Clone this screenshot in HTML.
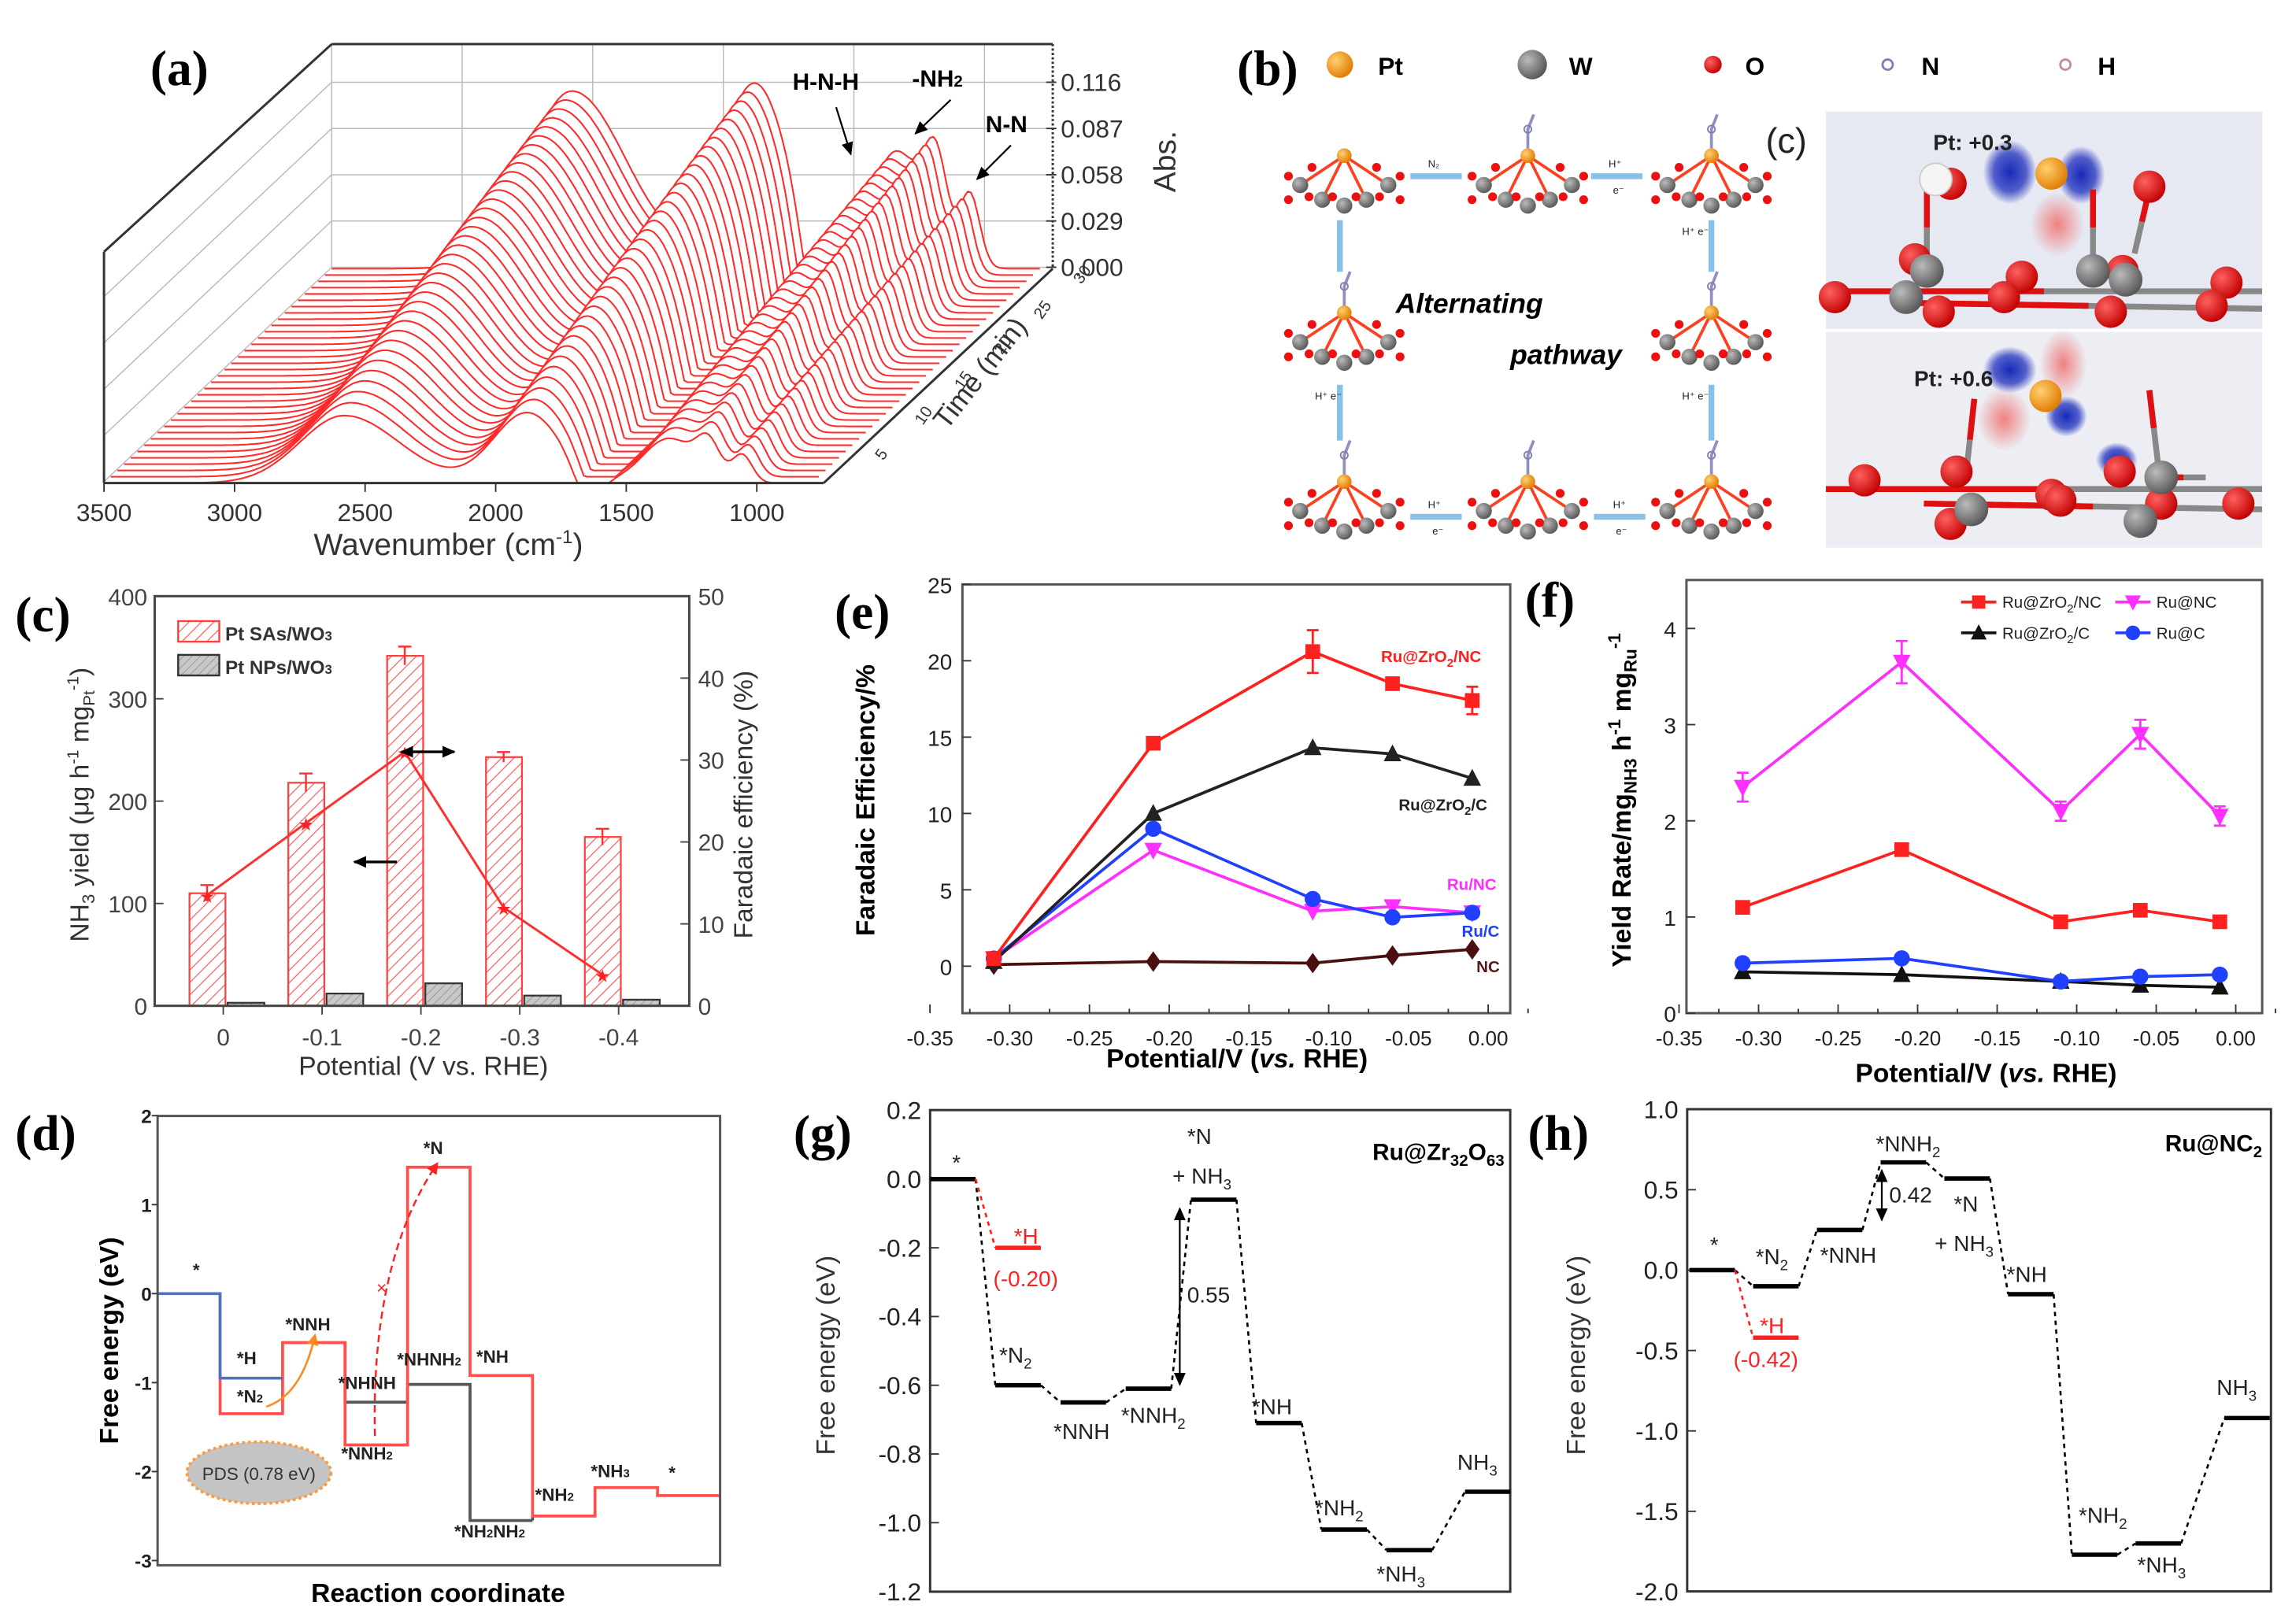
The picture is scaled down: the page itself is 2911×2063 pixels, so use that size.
<!DOCTYPE html>
<html><head><meta charset="utf-8">
<style>
html,body{margin:0;padding:0;background:#fff;}
svg{display:block;font-family:"Liberation Sans",Arial,sans-serif;}
.pl{font-family:"Liberation Serif",serif;font-weight:bold;font-size:34px;}
</style></head>
<body>
<svg id="fig" width="2911" height="2063" viewBox="0 0 1560 1106" xmlns="http://www.w3.org/2000/svg">
<defs>
<pattern id="hatchR" width="6" height="6" patternUnits="userSpaceOnUse" patternTransform="rotate(45)"><line x1="0" y1="0" x2="0" y2="6" stroke="#ff5050" stroke-width="1.2"/></pattern>
<pattern id="hatchG" width="4" height="4" patternUnits="userSpaceOnUse" patternTransform="rotate(45)"><rect width="4" height="4" fill="#c8c8c8"/><line x1="0" y1="0" x2="0" y2="4" stroke="#888" stroke-width="0.8"/></pattern>
<radialGradient id="gPt" cx="0.35" cy="0.35" r="0.7"><stop offset="0" stop-color="#ffd070"/><stop offset="1" stop-color="#e07a00"/></radialGradient>
<radialGradient id="gW" cx="0.35" cy="0.35" r="0.7"><stop offset="0" stop-color="#bbb"/><stop offset="1" stop-color="#555"/></radialGradient>
<radialGradient id="gO" cx="0.35" cy="0.35" r="0.7"><stop offset="0" stop-color="#ff6060"/><stop offset="1" stop-color="#c00000"/></radialGradient>
<radialGradient id="gBlue" cx="0.5" cy="0.5" r="0.5"><stop offset="0" stop-color="#1828b8"/><stop offset="0.6" stop-color="#2a3ac0" stop-opacity="0.8"/><stop offset="1" stop-color="#2030c0" stop-opacity="0"/></radialGradient>
<radialGradient id="gRed" cx="0.5" cy="0.5" r="0.5"><stop offset="0" stop-color="#f08080"/><stop offset="1" stop-color="#f08080" stop-opacity="0"/></radialGradient>
<marker id="arrK" markerUnits="userSpaceOnUse" markerWidth="9" markerHeight="8" refX="8" refY="4" orient="auto"><path d="M0,0 L9,4 L0,8 z" fill="#000"/></marker>
<marker id="arrKs" markerUnits="userSpaceOnUse" markerWidth="9" markerHeight="8" refX="1" refY="4" orient="auto"><path d="M9,0 L0,4 L9,8 z" fill="#000"/></marker>
<marker id="arrO" markerUnits="userSpaceOnUse" markerWidth="8" markerHeight="8" refX="6" refY="4" orient="auto"><path d="M0,0 L8,4 L0,8 z" fill="#ff8a20"/></marker>
<marker id="arrR" markerUnits="userSpaceOnUse" markerWidth="8" markerHeight="8" refX="6" refY="4" orient="auto"><path d="M0,0 L8,4 L0,8 z" fill="#ff2020"/></marker>
</defs>

<!-- ===== Panel (a) ===== -->
<g id="panelA">
<text class="pl" x="102" y="58">(a)</text>
<g id="a-grid" stroke="#bbb" stroke-width="0.8" fill="none"></g>
<g id="a-spectra"></g>
<g id="a-box" stroke="#333" stroke-width="1.6" fill="none">
<line x1="70.5" y1="171.5" x2="225.6" y2="30"/><line x1="225.6" y1="30" x2="716.5" y2="30"/>
<line x1="70.5" y1="171.5" x2="70.5" y2="329"/><line x1="70.5" y1="329" x2="560.5" y2="329"/>
<line x1="560.5" y1="329" x2="716.5" y2="183"/><line x1="716.5" y1="30" x2="716.5" y2="183" stroke-dasharray="1.5,1.5"/>
</g>
<g id="a-xticks"></g>
<g id="a-zticks"></g>
<text x="305" y="378" font-size="21" text-anchor="middle" fill="#333">Wavenumber (cm<tspan font-size="13" dy="-8">-1</tspan><tspan dy="8">)</tspan></text>
<text x="0" y="0" font-size="21" fill="#333" transform="translate(800,110) rotate(-90)" text-anchor="middle">Abs.</text>
<text x="0" y="0" font-size="19" fill="#333" transform="translate(672,258) rotate(-52)" text-anchor="middle">Time (min)</text>
<g id="a-tticks"></g>
<text x="562" y="61" font-size="16" font-weight="bold" text-anchor="middle">H-N-H</text>
<text x="638" y="59" font-size="16" font-weight="bold" text-anchor="middle">-NH<tspan font-size="11">2</tspan></text>
<text x="685" y="90" font-size="16" font-weight="bold" text-anchor="middle">N-N</text>
<line x1="569" y1="73" x2="579" y2="105" stroke="#000" stroke-width="1.2" marker-end="url(#arrK)"/>
<line x1="647" y1="68" x2="623" y2="91" stroke="#000" stroke-width="1.2" marker-end="url(#arrK)"/>
<line x1="688" y1="99" x2="665" y2="122" stroke="#000" stroke-width="1.2" marker-end="url(#arrK)"/>
</g>

<!-- ===== Panel (b) ===== -->
<g id="panelB">
<text class="pl" x="842" y="58">(b)</text>
<g font-size="17" font-weight="bold">
<circle cx="912" cy="44" r="9" fill="url(#gPt)"/><text x="938" y="51">Pt</text>
<circle cx="1043" cy="44" r="10" fill="url(#gW)"/><text x="1068" y="51">W</text>
<circle cx="1166" cy="44" r="6" fill="url(#gO)"/><text x="1188" y="51">O</text>
<circle cx="1285" cy="44" r="3.5" fill="none" stroke="#8080b0" stroke-width="1.5"/><text x="1308" y="51">N</text>
<circle cx="1406" cy="44" r="3.5" fill="none" stroke="#c09090" stroke-width="1.5"/><text x="1428" y="51">H</text>
</g>
<g id="b-mols"></g>
<g stroke="#88c0e8" stroke-width="4" fill="none">
<line x1="960" y1="120" x2="995" y2="120"/><line x1="1083" y1="120" x2="1118" y2="120"/>
<line x1="912" y1="150" x2="912" y2="185"/><line x1="1165" y1="150" x2="1165" y2="185"/>
<line x1="912" y1="262" x2="912" y2="300"/><line x1="1165" y1="262" x2="1165" y2="300"/>
<line x1="960" y1="352" x2="995" y2="352"/><line x1="1085" y1="352" x2="1120" y2="352"/>
</g>
<g font-size="7" fill="#222">
<text x="972" y="114">N₂</text><text x="1095" y="114">H⁺</text><text x="1098" y="132">e⁻</text>
<text x="1145" y="160">H⁺ e⁻</text><text x="1145" y="272">H⁺ e⁻</text><text x="895" y="272">H⁺ e⁻</text>
<text x="972" y="346">H⁺</text><text x="975" y="364">e⁻</text><text x="1098" y="346">H⁺</text><text x="1100" y="364">e⁻</text>
</g>
<text x="950" y="213" font-size="19" font-weight="bold" font-style="italic">Alternating</text>
<text x="1028" y="248" font-size="19" font-weight="bold" font-style="italic">pathway</text>
</g>

<!-- ===== Inset (c) charge density ===== -->
<g id="panelCinset">
<text x="1202" y="104" font-size="24" fill="#222">(c)</text>
<rect x="1243" y="76" width="297" height="148" fill="#e6e8f2"/>
<rect x="1243" y="226" width="297" height="147" fill="#eceef4"/>
<g id="c-blobs"></g>
<g id="c-atoms"></g>
<text x="1316" y="102" font-size="15" font-weight="bold" fill="#222">Pt: +0.3</text>
<text x="1303" y="263" font-size="15" font-weight="bold" fill="#222">Pt: +0.6</text>
</g>

<!-- ===== Panel (c) bar chart ===== -->
<g id="panelC">
<text class="pl" x="10" y="430">(c)</text>
<g id="c-bars"></g>
<rect x="105" y="406" width="364" height="279" fill="none" stroke="#444" stroke-width="1.6"/>
<g id="c-axes"></g>
<g>
<rect x="121" y="423" width="28" height="14" fill="url(#hatchR)" stroke="#ff4040" stroke-width="1.3"/>
<text x="153" y="436" font-size="13" font-weight="bold" fill="#333">Pt SAs/WO<tspan font-size="9">3</tspan></text>
<rect x="121" y="446" width="28" height="14" fill="url(#hatchG)" stroke="#333" stroke-width="1.3"/>
<text x="153" y="459" font-size="13" font-weight="bold" fill="#333">Pt NPs/WO<tspan font-size="9">3</tspan></text>
</g>
<line x1="270" y1="587" x2="241" y2="587" stroke="#000" stroke-width="1.8" marker-end="url(#arrK)"/>
<line x1="273" y1="512" x2="309" y2="512" stroke="#000" stroke-width="1.8" marker-end="url(#arrK)" marker-start="url(#arrKs)"/>
<text x="0" y="0" font-size="18" fill="#333" text-anchor="middle" transform="translate(60,548) rotate(-90)">NH<tspan font-size="12" dy="4">3</tspan><tspan dy="-4"> yield (μg h</tspan><tspan font-size="11" dy="-7">-1</tspan><tspan dy="7"> mg</tspan><tspan font-size="11" dy="4">Pt</tspan><tspan font-size="11" dy="-11">-1</tspan><tspan dy="7">)</tspan></text>
<text x="0" y="0" font-size="18" fill="#333" text-anchor="middle" transform="translate(512,548) rotate(-90)">Faradaic efficiency (%)</text>
<text x="288" y="732" font-size="18" fill="#333" text-anchor="middle">Potential (V vs. RHE)</text>
</g>

<!-- ===== Panel (e) ===== -->
<g id="panelE">
<text class="pl" x="568" y="428">(e)</text>
<rect x="655" y="398" width="373" height="292" fill="none" stroke="#555" stroke-width="1.6"/>
<g id="e-axes"></g>
<g id="e-series"></g>
<g font-size="11" font-weight="bold">
<text x="940" y="451" fill="#ff2020">Ru@ZrO<tspan font-size="8" dy="3">2</tspan><tspan dy="-3">/NC</tspan></text>
<text x="952" y="552" fill="#222">Ru@ZrO<tspan font-size="8" dy="3">2</tspan><tspan dy="-3">/C</tspan></text>
<text x="985" y="606" fill="#ff30ff">Ru/NC</text>
<text x="995" y="638" fill="#2040ff">Ru/C</text>
<text x="1005" y="662" fill="#551a1a">NC</text>
</g>
<text x="0" y="0" font-size="18" font-weight="bold" text-anchor="middle" transform="translate(595,545) rotate(-90)">Faradaic Efficiency/%</text>
<text x="842" y="727" font-size="18" font-weight="bold" text-anchor="middle">Potential/V (<tspan font-style="italic">vs.</tspan> RHE)</text>
</g>

<!-- ===== Panel (f) ===== -->
<g id="panelF">
<text class="pl" x="1038" y="420">(f)</text>
<rect x="1148" y="395" width="392" height="295" fill="none" stroke="#555" stroke-width="1.6"/>
<g id="f-axes"></g>
<g id="f-series"></g>
<g id="f-legend" font-size="11"></g>
<text x="0" y="0" font-size="18" font-weight="bold" text-anchor="middle" transform="translate(1110,545) rotate(-90)">Yield Rate/mg<tspan font-size="12" dy="4">NH3</tspan><tspan dy="-4"> h</tspan><tspan font-size="12" dy="-7">-1</tspan><tspan dy="7"> mg</tspan><tspan font-size="12" dy="4">Ru</tspan><tspan font-size="12" dy="-11">-1</tspan></text>
<text x="1352" y="737" font-size="18" font-weight="bold" text-anchor="middle">Potential/V (<tspan font-style="italic">vs.</tspan> RHE)</text>
</g>

<!-- ===== Panel (d) ===== -->
<g id="panelD">
<text class="pl" x="10" y="783">(d)</text>
<g id="d-steps"></g>
<rect x="107" y="760" width="383" height="306" fill="none" stroke="#555" stroke-width="1.6"/>
<g id="d-axes"></g>
<g font-size="12" font-weight="bold" fill="#222">
<text x="131" y="869">*</text><text x="161" y="929">*H</text><text x="161" y="955">*N<tspan font-size="8">2</tspan></text>
<text x="194" y="906">*NNH</text><text x="230" y="946">*NHNH</text><text x="232" y="994">*NNH<tspan font-size="8">2</tspan></text>
<text x="288" y="786">*N</text><text x="270" y="930">*NHNH<tspan font-size="8">2</tspan></text><text x="324" y="928">*NH</text>
<text x="309" y="1047">*NH<tspan font-size="8">2</tspan>NH<tspan font-size="8">2</tspan></text><text x="364" y="1022">*NH<tspan font-size="8">2</tspan></text>
<text x="402" y="1006">*NH<tspan font-size="8">3</tspan></text><text x="455" y="1007">*</text>
</g>
<path d="M181,958 Q205,950 214,910" fill="none" stroke="#ff8a20" stroke-width="1.4" marker-end="url(#arrO)"/>
<path d="M255,978 Q252,860 297,793" fill="none" stroke="#ff2020" stroke-width="1.3" stroke-dasharray="5,3" marker-end="url(#arrR)"/>
<text x="256" y="881" font-size="12" fill="#ff2020">×</text>
<ellipse cx="176" cy="1003" rx="49" ry="21" fill="#c4c4c4" stroke="#ff9a40" stroke-width="2" stroke-dasharray="2,2"/>
<text x="176" y="1008" font-size="12" text-anchor="middle" fill="#333">PDS (0.78 eV)</text>
<text x="0" y="0" font-size="18" font-weight="bold" text-anchor="middle" transform="translate(80,913) rotate(-90)">Free energy (eV)</text>
<text x="298" y="1091" font-size="18" font-weight="bold" text-anchor="middle">Reaction coordinate</text>
</g>

<!-- ===== Panel (g) ===== -->
<g id="panelG">
<text class="pl" x="540" y="783">(g)</text>
<rect x="633" y="756" width="395" height="328" fill="none" stroke="#333" stroke-width="1.6"/>
<g id="g-axes"></g>
<g id="g-steps"></g>
<text x="1024" y="790" font-size="16" font-weight="bold" text-anchor="end">Ru@Zr<tspan font-size="11" dy="4">32</tspan><tspan dy="-4">O</tspan><tspan font-size="11" dy="4">63</tspan></text>
<g font-size="15" fill="#222">
<text x="648" y="797">*</text>
<text x="690" y="847" fill="#ff2020">*H</text><text x="676" y="876" fill="#ff2020">(-0.20)</text>
<text x="680" y="928">*N<tspan font-size="10" dy="4">2</tspan></text>
<text x="717" y="980">*NNH</text><text x="763" y="969">*NNH<tspan font-size="10" dy="4">2</tspan></text>
<text x="808" y="779">*N</text><text x="798" y="806">+ NH<tspan font-size="10" dy="4">3</tspan></text>
<text x="808" y="887">0.55</text>
<text x="852" y="963">*NH</text><text x="895" y="1032">*NH<tspan font-size="10" dy="4">2</tspan></text>
<text x="937" y="1077">*NH<tspan font-size="10" dy="4">3</tspan></text><text x="992" y="1001">NH<tspan font-size="10" dy="4">3</tspan></text>
</g>
<line x1="803" y1="943" x2="803" y2="823" stroke="#000" stroke-width="1.2" marker-end="url(#arrK)" marker-start="url(#arrKs)"/>
<text x="0" y="0" font-size="18" text-anchor="middle" fill="#333" transform="translate(568,923) rotate(-90)">Free energy (eV)</text>
</g>

<!-- ===== Panel (h) ===== -->
<g id="panelH">
<text class="pl" x="1040" y="783">(h)</text>
<rect x="1148.5" y="755.4" width="397.5" height="328.4" fill="none" stroke="#333" stroke-width="1.6"/>
<g id="h-axes"></g>
<g id="h-steps"></g>
<text x="1540" y="784" font-size="16" font-weight="bold" text-anchor="end">Ru@NC<tspan font-size="11" dy="4">2</tspan></text>
<g font-size="15" fill="#222">
<text x="1164" y="853">*</text><text x="1195" y="861">*N<tspan font-size="10" dy="4">2</tspan></text>
<text x="1198" y="908" fill="#ff2020">*H</text><text x="1180" y="931" fill="#ff2020">(-0.42)</text>
<text x="1239" y="860">*NNH</text><text x="1277" y="784">*NNH<tspan font-size="10" dy="4">2</tspan></text>
<text x="1286" y="819">0.42</text>
<text x="1330" y="825">*N</text><text x="1317" y="852">+ NH<tspan font-size="10" dy="4">3</tspan></text>
<text x="1366" y="873">*NH</text><text x="1415" y="1037">*NH<tspan font-size="10" dy="4">2</tspan></text>
<text x="1455" y="1071">*NH<tspan font-size="10" dy="4">3</tspan></text><text x="1509" y="950">NH<tspan font-size="10" dy="4">3</tspan></text>
</g>
<line x1="1281" y1="797" x2="1281" y2="831" stroke="#000" stroke-width="1.2" marker-end="url(#arrK)" marker-start="url(#arrKs)"/>
<text x="0" y="0" font-size="18" text-anchor="middle" fill="#333" transform="translate(1079,923) rotate(-90)">Free energy (eV)</text>
</g>
</svg>

<script>
// ---------------- data arrays ----------------
// (a) in-situ FTIR waterfall
const aPeakCenters = [2580, 1880, 1337, 1185, 1056];
const aPeakHeights = [121, 126, 80, 62, 50];
const aPeakWidths  = [210, 130, 100, 45, 38];
const aDipCenter = 1650;
const aCurveCount = 35;
const aXTicks = [3500, 3000, 2500, 2000, 1500, 1000];
const aZTicks = ['0.116', '0.087', '0.058', '0.029', '0.000'];
const aTimeTicks = ['5', '10', '15', '20', '25', '30'];
// (c) bars
const cCats = ['0', '-0.1', '-0.2', '-0.3', '-0.4'];
const cSA = [110, 218, 342, 243, 165];
const cSAerr = [8, 9, 9, 5, 8];
const cNP = [3, 12, 22, 10, 6];
const cFE = [13.5, 22.3, 31, 12, 3.8];
const cYTicks = [0, 100, 200, 300, 400];
const cY2Ticks = [0, 10, 20, 30, 40, 50];
// (e)
const ePot = [-0.31, -0.21, -0.11, -0.06, -0.01];
const eRuZrNC = [0.5, 14.6, 20.6, 18.5, 17.4];
const eRuZrNCerr = [0, 0.4, 1.4, 0.3, 0.9];
const eRuZrC = [0.3, 10.0, 14.3, 13.9, 12.3];
const eRuC = [0.5, 9.0, 4.4, 3.2, 3.5];
const eRuNC = [0.5, 7.6, 3.6, 3.9, 3.5];
const eNC = [0.1, 0.3, 0.2, 0.7, 1.1];
const eYTicks = [0, 5, 10, 15, 20, 25];
const eXTicks = ['-0.35', '-0.30', '-0.25', '-0.20', '-0.15', '-0.10', '-0.05', '0.00'];
// (f)
const fPot = [-0.31, -0.21, -0.11, -0.06, -0.01];
const fRuNC = [2.35, 3.65, 2.1, 2.9, 2.05];
const fRuNCerr = [0.15, 0.22, 0.1, 0.15, 0.1];
const fRuZrNC = [1.1, 1.7, 0.95, 1.07, 0.95];
const fRuC = [0.52, 0.57, 0.33, 0.38, 0.4];
const fRuZrC = [0.43, 0.40, 0.33, 0.29, 0.27];
const fYTicks = [0, 1, 2, 3, 4];
// (d)
const dBlue = [0, -0.95];
const dRed = [null, -1.35, -0.55, -1.7, 1.42, -0.92, -2.5, -2.18, -2.27];
const dBlack = [null, null, null, -1.22, -1.02, -2.55];
const dYTicks = [2, 1, 0, -1, -2, -3];
// (g)
const gLevels = [0, -0.6, -0.65, -0.61, -0.06, -0.71, -1.02, -1.08, -0.91];
const gH = -0.2;
const gYTicks = ['0.2', '0.0', '-0.2', '-0.4', '-0.6', '-0.8', '-1.0', '-1.2'];
// (h)
const hLevels = [0, -0.1, 0.25, 0.67, 0.57, -0.15, -1.77, -1.70, -0.92];
const hH = -0.42;
const hYTicks = ['1.0', '0.5', '0.0', '-0.5', '-1.0', '-1.5', '-2.0'];

const NS = 'http://www.w3.org/2000/svg';
function mk(tag, attrs, parent) {
  const e = document.createElementNS(NS, tag);
  for (const k in attrs) e.setAttribute(k, attrs[k]);
  if (parent) parent.appendChild(e);
  return e;
}
function txt(parent, x, y, s, attrs) {
  const e = mk('text', Object.assign({x: x, y: y}, attrs || {}), parent);
  e.textContent = s;
  return e;
}
const $ = id => document.getElementById(id);

// ---------------- (a) ----------------
(function () {
  const X0 = 70.5, Y0 = 329, DX = 155, DY = -146, K = 0.1778;
  const xW = wn => X0 + (3500 - wn) * K;
  const grid = $('a-grid');
  aXTicks.forEach(w => {
    const l = mk('line', {x1: xW(w) + DX, y1: 30, x2: xW(w) + DX, y2: Y0 + DY}, grid);
    
    
  });
  aZTicks.forEach((s, i) => {
    const y = 56 + i * 31.5;
    const l = mk('line', {x1: X0 + DX, y1: y, x2: 716.5, y2: y}, grid);
    
    
    const l2 = mk('line', {x1: X0, y1: y - DY, x2: X0 + DX, y2: y}, grid);
    
    
  });
  const sp = $('a-spectra');
  for (let k = aCurveCount - 1; k >= 0; k--) {
    const f = k / (aCurveCount - 1);
    const dx = f * DX, dy = f * DY;
    const sc = 0.38 + 0.62 * Math.pow(f, 0.8);
    let pts = [];
    for (let w = 3500; w >= 780; w -= 12) {
      let h = 0;
      for (let i = 0; i < aPeakCenters.length; i++) {
        let wd = aPeakWidths[i];
        if (i === 0 && w > aPeakCenters[0]) wd = 170;
        h += aPeakHeights[i] * Math.exp(-Math.pow((w - aPeakCenters[i]) / wd, 2) / 2);
      }
      h -= 0.45 * aPeakHeights[0] * Math.exp(-Math.pow((w - aDipCenter) / 50, 2) / 2);
      h = Math.max(h * sc, 0);
      pts.push([xW(w) + dx, Y0 + dy - h]);
    }
    const d = 'M' + pts.map(p => p[0].toFixed(1) + ',' + p[1].toFixed(1)).join(' L');
    const poly = mk('path', {d: d + ' L' + pts[pts.length - 1][0].toFixed(1) + ',' + (Y0 + dy) + ' L' + pts[0][0].toFixed(1) + ',' + (Y0 + dy) + ' Z', fill: '#fff', stroke: 'none'}, sp);
    
    
    const line = mk('path', {d: d, fill: 'none', stroke: '#ff2a2a', 'stroke-width': 1.1}, sp);
    
    
  }
  const xt = $('a-xticks');
  aXTicks.forEach(w => {
    const t = txt(xt, xW(w), 355, String(w), {'font-size': 17, 'text-anchor': 'middle', fill: '#333'});
    
    
    mk('line', {x1: xW(w), y1: Y0, x2: xW(w), y2: Y0 + 6, stroke: '#333'}, xt);
  });
  const zt = $('a-zticks');
  aZTicks.forEach((s, i) => {
    const y = 56 + i * 31.5;
    const t = txt(zt, 722, y + 6, s, {'font-size': 17, fill: '#333'});
    
    
    mk('line', {x1: 712, y1: y, x2: 719, y2: y, stroke: '#333'}, zt);
  });
  const tt = $('a-tticks');
  aTimeTicks.forEach((s, i) => {
    const x = 601 + i * 27, y = 314 - i * 24;
    const t = txt(tt, 0, 0, s, {'font-size': 11, fill: '#333', transform: 'translate(' + x + ',' + y + ') rotate(-55)'});
    
    
  });
})();

// ---------------- (b) molecules ----------------
(function () {
  const g = $('b-mols');
  const centers = [[915,118,0],[1040,118,1],[1165,118,2],[915,225,1],[1165,225,2],[915,340,1],[1040,340,2],[1165,340,1]];
  centers.forEach(c => {
    const [cx, cy, n] = c;
    const m = mk('g', {}, g);
    
    
    mk('path', {d: `M${cx-30},${cy+8} L${cx},${cy-12} L${cx+30},${cy+8} M${cx-15},${cy+18} L${cx},${cy-12} L${cx+15},${cy+18}`, stroke: '#ff4020', 'stroke-width': 2, fill: 'none'}, m);
    [[-30,8],[30,8],[-15,18],[15,18],[0,22]].forEach(p => mk('circle', {cx: cx+p[0], cy: cy+p[1], r: 5.5, fill: 'url(#gW)'}, m));
    [[-38,2],[38,2],[-22,-4],[22,-4],[-8,16],[8,16],[-24,16],[24,16],[-38,18],[38,18]].forEach(p => mk('circle', {cx: cx+p[0], cy: cy+p[1], r: 3, fill: '#ee1010'}, m));
    mk('circle', {cx: cx, cy: cy - 12, r: 5, fill: 'url(#gPt)'}, m);
    if (n > 0) {
      mk('path', {d: `M${cx},${cy-17} L${cx},${cy-30} L${cx+4},${cy-40}`, stroke: '#9090c0', 'stroke-width': 2, fill: 'none'}, m);
      mk('circle', {cx: cx, cy: cy - 30, r: 2.5, fill: 'none', stroke: '#8080b0'}, m);
    }
  });
  const Z = (zx, zy) => [1243 + zx * 0.202, 69.7 + zy * 0.198];
  const bl = $('c-blobs');
  [[620,240,90,110,'gBlue'],[860,250,80,100,'gBlue'],[780,420,90,110,'gRed'],[620,920,90,80,'gBlue'],[810,1080,70,70,'gBlue'],[800,900,80,120,'gRed'],[600,1090,90,110,'gRed'],[980,1230,70,60,'gBlue']].forEach(b => {
    const p = Z(b[0], b[1]);
    mk('ellipse', {cx: p[0], cy: p[1], rx: b[2] * 0.202, ry: b[3] * 0.198, fill: 'url(#' + b[4] + ')'}, bl);
  });
  const a = $('c-atoms');
  const bonds = [[340,300,340,560],[900,300,900,560],[1090,300,1040,520],[0,650,1470,650],[300,690,1470,710],[500,1020,470,1300],[1090,990,1120,1250],[0,1330,1470,1330],[330,1380,1470,1400],[1130,1290,1280,1290]];
  bonds.forEach(b => {
    const p = Z(b[0], b[1]), q = Z(b[2], b[3]);
    mk('line', {x1: p[0], y1: p[1], x2: q[0], y2: q[1], stroke: '#888', 'stroke-width': 4}, a);
    mk('line', {x1: p[0], y1: p[1], x2: (p[0] + q[0]) / 2, y2: (p[1] + q[1]) / 2, stroke: '#e01010', 'stroke-width': 4}, a);
  });
  const O = [[300,540],[30,670],[380,720],[660,600],[600,670],[960,720],[1000,580],[1350,620],[1300,700],[1090,290],[420,280],[130,1300],[440,1270],[420,1450],[760,1350],[790,1370],[990,1270],[1130,1380],[1390,1380]];
  const W = [[340,580],[270,670],[900,580],[1010,610],[490,1400],[1130,1290],[1060,1440]];
  O.forEach(p => { const q = Z(p[0], p[1]); mk('circle', {cx: q[0], cy: q[1], r: 11, fill: 'url(#gO)'}, a); });
  W.forEach(p => { const q = Z(p[0], p[1]); mk('circle', {cx: q[0], cy: q[1], r: 11.5, fill: 'url(#gW)'}, a); });
  let q = Z(370, 265); mk('circle', {cx: q[0], cy: q[1], r: 11, fill: '#f4f4f4', stroke: '#ccc'}, a);
  q = Z(760, 245); mk('circle', {cx: q[0], cy: q[1], r: 11, fill: 'url(#gPt)'}, a);
  q = Z(740, 1010); mk('circle', {cx: q[0], cy: q[1], r: 11, fill: 'url(#gPt)'}, a);
})();

// ---------------- (c) ----------------
(function () {
  const xC = i => 151.7 + i * 67.3;
  const yL = v => 685 - v * 0.697;
  const yR = v => 685 - v * 5.58;
  const g = $('c-bars');
  cCats.forEach((c, i) => {
    const r = mk('rect', {x: xC(i) - 23, y: yL(cSA[i]), width: 24.5, height: 685 - yL(cSA[i]), fill: 'url(#hatchR)', stroke: '#ff4040', 'stroke-width': 1.2}, g);
    
    
    const e = mk('path', {d: `M${xC(i)-11},${yL(cSA[i]+cSAerr[i])} V${yL(cSA[i]-cSAerr[i])} M${xC(i)-15.5},${yL(cSA[i]+cSAerr[i])} h9`, stroke: '#ff3030', 'stroke-width': 1.3}, g);
    
    
    const r2 = mk('rect', {x: xC(i) + 3, y: yL(cNP[i]), width: 25, height: 685 - yL(cNP[i]), fill: 'url(#hatchG)', stroke: '#333', 'stroke-width': 1.2}, g);
    
    
  });
  const pl = mk('polyline', {points: cFE.map((v, i) => (xC(i) - 11) + ',' + yR(v)).join(' '), fill: 'none', stroke: '#ff3030', 'stroke-width': 1.6}, g);
  
  
  cFE.forEach((v, i) => {
    const t = txt(g, xC(i) - 11, yR(v) + 5, '★', {'font-size': 12, 'text-anchor': 'middle', fill: '#ff2020'});
    
    
  });
  const ax = $('c-axes');
  cYTicks.forEach(v => {
    const t = txt(ax, 100, yL(v) + 6, String(v), {'font-size': 16, 'text-anchor': 'end', fill: '#444'});
    
    
    mk('line', {x1: 105, y1: yL(v), x2: 111, y2: yL(v), stroke: '#444'}, ax);
  });
  cY2Ticks.forEach(v => {
    const t = txt(ax, 475, yR(v) + 6, String(v), {'font-size': 16, fill: '#444'});
    
    
    mk('line', {x1: 463, y1: yR(v), x2: 469, y2: yR(v), stroke: '#444'}, ax);
  });
  cCats.forEach((c, i) => {
    const t = txt(ax, xC(i), 712, c, {'font-size': 16, 'text-anchor': 'middle', fill: '#444'});
    
    
    mk('line', {x1: xC(i), y1: 685, x2: xC(i), y2: 691, stroke: '#444'}, ax);
  });
})();

// ---------------- markers ----------------
function marker(parent, shape, x, y, color, s) {
  let e;
  if (shape === 'square') e = mk('rect', {x: x - s, y: y - s, width: 2 * s, height: 2 * s, fill: color}, parent);
  else if (shape === 'circle') e = mk('circle', {cx: x, cy: y, r: s * 1.1, fill: color}, parent);
  else if (shape === 'up') e = mk('path', {d: `M${x},${y-s*1.3} L${x+s*1.2},${y+s} L${x-s*1.2},${y+s} Z`, fill: color}, parent);
  else if (shape === 'down') e = mk('path', {d: `M${x},${y+s*1.3} L${x+s*1.2},${y-s} L${x-s*1.2},${y-s} Z`, fill: color}, parent);
  else e = mk('path', {d: `M${x},${y-s*1.4} L${x+s},${y} L${x},${y+s*1.4} L${x-s},${y} Z`, fill: color}, parent);
  return e;
}
function series(parent, xs, ys, xf, yf, color, shape, name, errs) {
  const g = mk('g', {}, parent);
  
  
  const pl = mk('polyline', {points: xs.map((x, i) => xf(x) + ',' + yf(ys[i])).join(' '), fill: 'none', stroke: color, 'stroke-width': 2}, g);
  
  
  xs.forEach((x, i) => {
    if (errs && errs[i]) {
      const eb = mk('path', {d: `M${xf(x)},${yf(ys[i]+errs[i])} V${yf(ys[i]-errs[i])} M${xf(x)-4},${yf(ys[i]+errs[i])} h8 M${xf(x)-4},${yf(ys[i]-errs[i])} h8`, stroke: color, 'stroke-width': 1.5}, g);
      
      
    }
    const m = marker(g, shape, xf(x), yf(ys[i]), color, 5);
    
    
  });
}
function xAxis(parent, ticks, xf, y0, fs) {
  ticks.forEach(s => {
    const v = parseFloat(s);
    const t = txt(parent, xf(v), y0 + 22, s, {'font-size': fs, 'text-anchor': 'middle', fill: '#222'});
    
    
    mk('line', {x1: xf(v), y1: y0, x2: xf(v), y2: y0 - 6, stroke: '#333'}, parent);
    mk('line', {x1: xf(v + 0.025), y1: y0, x2: xf(v + 0.025), y2: y0 - 3, stroke: '#333'}, parent);
  });
}

// ---------------- (e) ----------------
(function () {
  const xE = v => 1013 + v * 1086;
  const yE = v => 658 - v * 10.4;
  const ax = $('e-axes');
  eYTicks.forEach(v => {
    const t = txt(ax, 648, yE(v) + 6, String(v), {'font-size': 15, 'text-anchor': 'end', fill: '#222'});
    
    
    mk('line', {x1: 655, y1: yE(v), x2: 661, y2: yE(v), stroke: '#333'}, ax);
  });
  xAxis(ax, eXTicks, xE, 690, 14);
  const g = $('e-series');
  series(g, ePot, eNC, xE, yE, '#4a1010', 'diamond', 'series-nc');
  series(g, ePot, eRuNC, xE, yE, '#ff30ff', 'down', 'series-ru-nc');
  series(g, ePot, eRuC, xE, yE, '#2040ff', 'circle', 'series-ru-c');
  series(g, ePot, eRuZrC, xE, yE, '#222', 'up', 'series-ru-zro2-c');
  series(g, ePot, eRuZrNC, xE, yE, '#ff2020', 'square', 'series-ru-zro2-nc', eRuZrNCerr);
})();

// ---------------- (f) ----------------
(function () {
  const xF = v => 1522 + v * 1083;
  const yF = v => 690 - v * 65.5;
  const ax = $('f-axes');
  fYTicks.forEach(v => {
    const t = txt(ax, 1141, yF(v) + 6, String(v), {'font-size': 15, 'text-anchor': 'end', fill: '#222'});
    
    
    mk('line', {x1: 1148, y1: yF(v), x2: 1154, y2: yF(v), stroke: '#333'}, ax);
  });
  xAxis(ax, eXTicks, xF, 690, 14);
  const g = $('f-series');
  series(g, fPot, fRuZrC, xF, yF, '#111', 'up', 'series-f-ru-zro2-c');
  series(g, fPot, fRuC, xF, yF, '#2040ff', 'circle', 'series-f-ru-c');
  series(g, fPot, fRuZrNC, xF, yF, '#ff2020', 'square', 'series-f-ru-zro2-nc');
  series(g, fPot, fRuNC, xF, yF, '#ff30ff', 'down', 'series-f-ru-nc', fRuNCerr);
  const lg = $('f-legend');
  const items = [['Ru@ZrO', '/NC', '#ff2020', 'square', 1335, 410], ['Ru@NC', '', '#ff30ff', 'down', 1440, 410], ['Ru@ZrO', '/C', '#111', 'up', 1335, 431], ['Ru@C', '', '#2040ff', 'circle', 1440, 431]];
  items.forEach(it => {
    const e = mk('g', {}, lg);
    
    
    mk('line', {x1: it[4], y1: it[5], x2: it[4] + 24, y2: it[5], stroke: it[2], 'stroke-width': 2}, e);
    marker(e, it[3], it[4] + 12, it[5], it[2], 4.5);
    const t = txt(e, it[4] + 28, it[5] + 4, it[0], {fill: '#222'});
    if (it[1]) {
      const s = mk('tspan', {'font-size': 8, dy: 3}, t); s.textContent = '2';
      const s2 = mk('tspan', {dy: -3}, t); s2.textContent = it[1];
    }
  });
})();

// ---------------- (d) ----------------
(function () {
  const yD = v => 881 - v * 60.6;
  const xS = s => 107 + s * 42.55;
  const g = $('d-steps');
  function path(levels, color, name, startFrom) {
    let d = '', prev = startFrom;
    levels.forEach((v, s) => {
      if (v === null) return;
      if (prev !== null && prev !== undefined) {
        d += (d ? ' L' : 'M') + `${xS(s)},${yD(prev)} L${xS(s)},${yD(v)}`;
      } else {
        d += (d ? ' M' : 'M') + `${xS(s)},${yD(v)}`;
      }
      d += ` L${xS(s + 1)},${yD(v)}`;
      prev = v;
    });
    const p = mk('path', {d: d, fill: 'none', stroke: color, 'stroke-width': 2}, g);
    
    
    return prev;
  }
  const lastBlack = path(dBlack, '#555', 'd-black-path', dRed[2]);
  const j = mk('line', {x1: xS(6), y1: yD(lastBlack), x2: xS(6), y2: yD(dRed[6]), stroke: '#555', 'stroke-width': 2}, g);
  
  
  path(dRed, '#ff5050', 'd-red-path', dBlue[0]);
  path(dBlue, '#5070c0', 'd-blue-path');
  const ax = $('d-axes');
  dYTicks.forEach(v => {
    const t = txt(ax, 103, yD(v) + 5, String(v), {'font-size': 13, 'font-weight': 'bold', 'text-anchor': 'end', fill: '#222'});
    
    
    mk('line', {x1: 107, y1: yD(v), x2: 103, y2: yD(v), stroke: '#333'}, ax);
  });
})();

// ---------------- (g), (h) ----------------
function energyDiagram(axId, stepId, levels, hVal, yf, x0, dxs, w, lastShift, ticks, axX, name) {
  const ax = $(axId);
  ticks.forEach(s => {
    const v = parseFloat(s);
    const t = txt(ax, axX - 6, yf(v) + 6, s, {'font-size': 17, 'text-anchor': 'end', fill: '#222'});
    
    
    mk('line', {x1: axX, y1: yf(v), x2: axX + 6, y2: yf(v), stroke: '#333'}, ax);
  });
  const g = $(stepId);
  const xAt = i => x0 + i * dxs + (i === levels.length - 1 ? lastShift : 0);
  levels.forEach((v, i) => {
    const x = xAt(i);
    const l = mk('line', {x1: x, y1: yf(v), x2: x + w, y2: yf(v), stroke: '#000', 'stroke-width': 3}, g);
    
    
    if (i > 0) {
      const c = mk('line', {x1: xAt(i - 1) + w, y1: yf(levels[i - 1]), x2: x, y2: yf(v), stroke: '#000', 'stroke-width': 1.4, 'stroke-dasharray': '3,3'}, g);
      
      
    }
  });
  const hx = xAt(1);
  const hl = mk('line', {x1: hx, y1: yf(hVal), x2: hx + w, y2: yf(hVal), stroke: '#ff2020', 'stroke-width': 3}, g);
  
  
  const hc = mk('line', {x1: x0 + w, y1: yf(levels[0]), x2: hx, y2: yf(hVal), stroke: '#ff2020', 'stroke-width': 1.4, 'stroke-dasharray': '3,3'}, g);
  
  
}
energyDiagram('g-axes', 'g-steps', gLevels, gH, v => 803 - v * 234, 633, 44.4, 31, 9, gYTicks, 633, 'g');
energyDiagram('h-axes', 'h-steps', hLevels, hH, v => 865 - v * 109.5, 1150, 43.4, 31, 17, hYTicks, 1148.5, 'h');
</script>
</body></html>
